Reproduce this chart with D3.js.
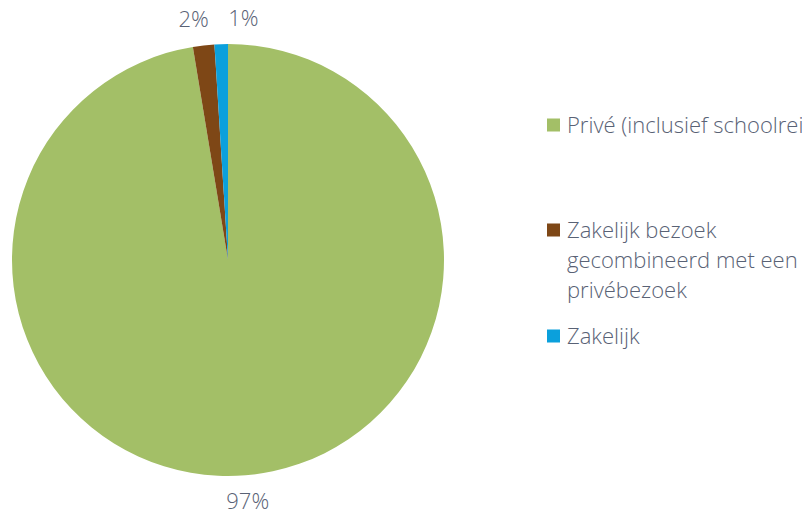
<!DOCTYPE html>
<html><head><meta charset="utf-8">
<script src="https://cdn.jsdelivr.net/npm/d3@7"></script>
<style>body{margin:0;background:#fff;overflow:hidden}svg{display:block}</style>
</head><body>
<svg id="c" width="802" height="515"></svg>
<script>
const categories = ["Privé (inclusief schoolreizen)", "Zakelijk bezoek gecombineerd met een privébezoek", "Zakelijk"];
const legendLines = [["Privé (inclusief schoolreizen)"], ["Zakelijk bezoek", "gecombineerd met een", "privébezoek"], ["Zakelijk"]];
const values = [97.4, 1.6, 1.0];
const colors = ["#a3bf67", "#7e4716", "#0ba0dc"];
const labelNudge = [0, -7, 23];

const svg = d3.select("#c");
const cx = 228, cy = 260, r = 216;
const font = "'Open Sans', Lato, sans-serif";
const textColor = "#596275";
const fs = 22;

const pie = d3.pie().sort(null).value(d => d)(values);
const arc = d3.arc().innerRadius(0).outerRadius(r);
const labelArc = d3.arc().innerRadius(r + 26).outerRadius(r + 26);

const g = svg.append("g").attr("transform", `translate(${cx},${cy})`);
g.selectAll("path").data(pie).join("path")
  .attr("d", arc).attr("fill", (d, i) => colors[i]);

g.selectAll("text").data(pie).join("text")
  .attr("x", (d, i) => labelArc.centroid(d)[0] + labelNudge[i])
  .attr("y", d => labelArc.centroid(d)[1])
  .attr("dy", "0.35em")
  .attr("text-anchor", "middle")
  .attr("font-family", font).attr("font-weight", 300).attr("font-size", fs)
  .attr("fill", textColor)
  .text(d => Math.round(d.data) + "%");

const legendPos = [125, 230, 336];
const lg = svg.append("g");
const items = lg.selectAll("g").data(categories).join("g")
  .attr("transform", (d, i) => `translate(547,${legendPos[i]})`);
items.append("rect").attr("x", 0).attr("y", -6.5).attr("width", 13).attr("height", 13)
  .attr("fill", (d, i) => colors[i]);
items.append("text")
  .attr("x", 20).attr("y", 0)
  .attr("font-family", font).attr("font-weight", 300).attr("font-size", fs)
  .attr("fill", textColor)
  .each(function(d, i) {
    const t = d3.select(this);
    legendLines[i].forEach((line, j) => {
      t.append("tspan").attr("x", 20).attr("y", j * 30).attr("dy", "0.36em").text(line);
    });
  });
</script>
</body></html>
